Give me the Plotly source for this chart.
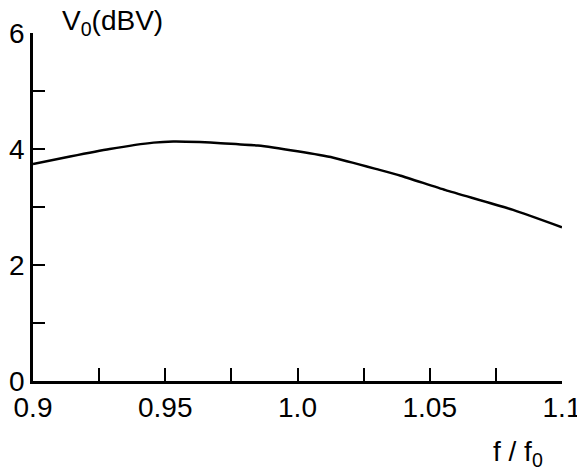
import plotly.graph_objects as go

f_ratio = [0.9, 0.914, 0.929, 0.9456, 0.953, 0.963, 0.971, 0.985, 1.0, 1.0136, 1.031, 1.039, 1.056, 1.0815, 1.1]
v0_dbv = [3.74, 3.87, 4.0, 4.11, 4.13, 4.12, 4.10, 4.06, 3.96, 3.85, 3.64, 3.54, 3.29, 2.95, 2.65]

x_ticks = [0.9, 0.925, 0.95, 0.975, 1.0, 1.025, 1.05, 1.075, 1.1]
x_labels = ["0.9", "", "0.95", "", "1.0", "", "1.05", "", "1.1"]
y_ticks = [0, 1, 2, 3, 4, 5, 6]
y_labels = ["0", "", "2", "", "4", "", "6"]

fig = go.Figure()
fig.add_trace(go.Scatter(x=f_ratio, y=v0_dbv, mode="lines",
                         line=dict(color="black", width=2.5, shape="spline", smoothing=0.5),
                         showlegend=False, hoverinfo="skip"))

font = dict(family="Liberation Sans, Arial, sans-serif", size=28, color="black")

fig.update_layout(
    width=577, height=474,
    margin=dict(l=33, r=15, t=33, b=93),
    paper_bgcolor="white", plot_bgcolor="white",
    font=font,
    xaxis=dict(range=[0.9, 1.1], tickmode="array", tickvals=x_ticks, ticktext=x_labels,
               ticks="inside", ticklen=13, tickwidth=1.8, tickcolor="black",
               showline=True, linecolor="black", linewidth=2.5, showgrid=False,
               zeroline=False, tickfont=font, automargin=False, ticklabeloverflow="allow"),
    yaxis=dict(range=[0, 6], tickmode="array", tickvals=y_ticks, ticktext=y_labels,
               ticks="inside", ticklen=12, tickwidth=1.8, tickcolor="black",
               showline=True, linecolor="black", linewidth=2.5, showgrid=False,
               zeroline=False, tickfont=font, automargin=False, ticklabeloverflow="allow"),
)

fig.add_annotation(text="V<sub>0</sub>(dBV)", xref="paper", yref="paper",
                   x=0.051, y=0.975, xanchor="left", yanchor="bottom", showarrow=False,
                   font=font)
fig.add_annotation(text="f / f<sub>0</sub>", xref="paper", yref="paper",
                   x=0.968, y=-0.265, xanchor="right", yanchor="bottom", showarrow=False,
                   font=font)

fig.write_html("out.html", config={"displayModeBar": False},
               post_script="document.body.style.margin='0';document.body.style.overflow='hidden';")
